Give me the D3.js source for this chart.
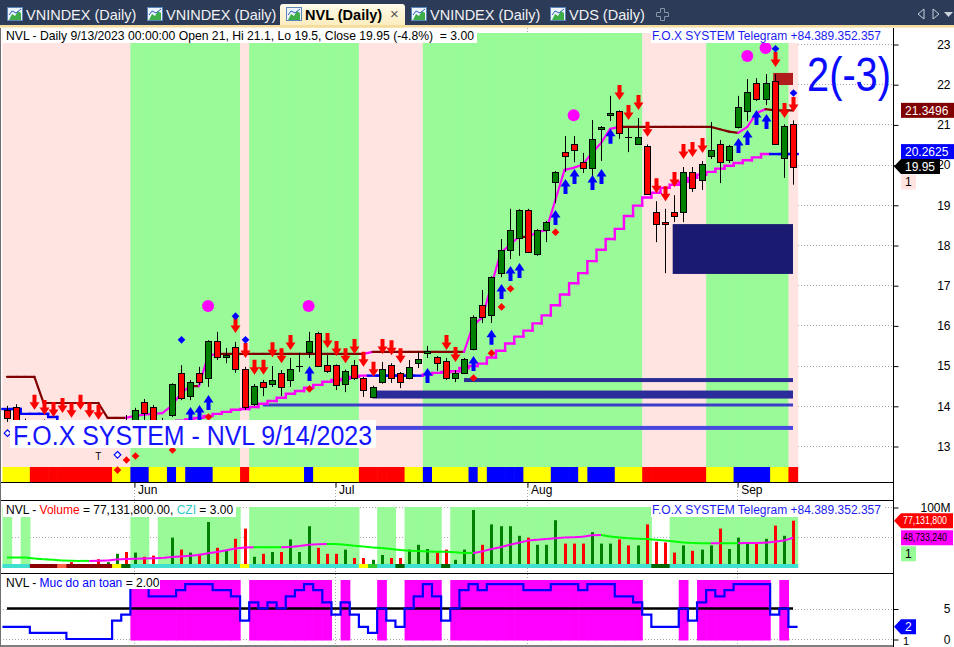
<!DOCTYPE html>
<html>
<head>
<meta charset="utf-8">
<title>NVL (Daily)</title>
<script src="https://cdn.jsdelivr.net/npm/d3@7"></script>
<style>
  body { margin: 0; background: #fff; overflow: hidden; }
  svg { display: block; }
</style>
</head>
<body>
<svg id="chart" width="954" height="647"></svg>
<script>
// ---------------- data ----------------
var opens = [13.90,13.97,13.60,13.45,13.60,13.45,13.40,13.50,13.35,13.40,
  13.30,13.25,13.28,13.55,13.50,14.09,13.97,13.55,13.77,14.82,
  14.24,14.82,14.69,15.61,15.21,15.46,14.92,14.04,14.59,14.54,
  14.82,14.64,14.98,15.34,15.81,15.01,15.01,14.54,15.01,14.69,
  14.22,14.59,15.01,14.82,14.69,15.06,15.31,15.21,15.11,14.69,
  14.82,15.41,16.51,16.26,17.30,17.88,18.17,18.87,17.78,18.37,
  19.57,20.31,20.51,20.06,19.92,20.89,21.23,21.33,20.70,20.51,
  20.46,18.82,18.57,18.82,18.82,19.82,19.62,20.21,20.51,20.11,
  20.94,21.33,22.03,21.63,22.08,20.16,21.00];
var highs = [14.00,14.04,13.68,13.62,13.66,13.55,13.60,13.58,13.62,13.50,
  13.45,13.50,13.55,13.77,13.95,14.17,14.02,13.70,14.56,15.01,
  14.64,14.97,15.63,15.84,15.44,15.59,14.97,14.54,14.64,14.99,
  14.89,15.19,15.31,15.84,15.84,15.26,15.03,14.90,15.14,14.72,
  14.50,15.09,15.06,14.84,15.14,15.34,15.49,15.24,15.19,14.89,
  15.19,16.25,16.88,17.22,18.15,18.90,18.89,18.90,18.40,18.60,
  19.84,20.71,20.71,20.29,21.11,20.96,21.71,21.35,20.91,21.16,
  20.50,19.09,18.90,19.24,19.94,19.94,20.09,21.06,20.61,20.49,
  21.71,22.13,22.15,22.25,22.25,21.00,21.10];
var lows = [13.60,13.50,13.35,13.35,13.35,13.30,13.30,13.25,13.20,13.20,
  13.15,13.15,13.20,13.25,13.40,13.60,13.50,13.35,13.72,14.14,
  14.14,14.52,14.47,15.14,15.06,14.82,13.90,14.00,14.24,14.47,
  14.24,14.47,14.84,15.19,14.97,14.82,14.39,14.34,14.64,14.22,
  14.20,14.55,14.57,14.44,14.66,14.94,15.19,14.87,14.64,14.59,
  14.80,15.38,16.06,16.06,17.20,17.65,17.73,17.80,17.73,18.07,
  19.04,19.82,20.06,19.79,19.54,20.09,21.08,20.64,20.31,20.49,
  19.25,18.07,17.30,18.57,18.57,19.32,19.37,20.14,19.54,20.04,
  20.90,21.08,21.58,21.48,20.49,19.67,19.50];
var closes = [13.70,13.55,13.45,13.55,13.45,13.40,13.50,13.35,13.40,13.30,
  13.25,13.35,13.36,13.40,13.90,13.82,13.60,13.62,14.54,14.19,
  14.59,14.59,15.61,15.21,15.26,14.92,13.97,14.49,14.47,14.64,
  14.47,14.92,15.00,15.61,14.99,14.87,14.52,14.87,14.69,14.39,
  14.47,14.92,14.69,14.59,14.97,15.16,15.36,15.06,14.69,14.82,
  15.16,16.21,16.21,17.20,17.88,18.37,18.87,17.83,18.37,18.57,
  19.82,20.21,20.36,19.92,20.64,20.94,21.28,20.79,20.68,20.69,
  19.27,18.52,18.52,18.72,19.82,19.42,20.01,20.36,20.06,20.46,
  21.43,21.81,21.63,22.03,20.51,20.95,19.95];
// volume in millions of shares
var volumes = [3,5,5,4,3,4,3,8,4,3,
  13,8,22,25,24,17,19,5,49,29,
  24,22,75,32,27,47,64,17,22,25,
  25,46,25,68,32,22,22,29,15,15,
  12,20,15,15,29,37,30,24,29,12,
  29,95,37,71,68,68,52,49,37,37,
  78,39,39,39,58,39,39,46,36,36,
  71,42,41,24,36,27,29,36,64,30,
  49,41,39,47,69,52,77.1318];
var volumeMA = [15.8,15.8,15.8,14,13,12,11,10.5,10.2,10.2,
  10.5,11,12.5,13.5,13.8,14,14.5,15,16.5,17.5,
  18.6,20,23,25,28,31,32.5,33,33,33,
  33,33.5,35,37,38,38.5,38.4,37,35.5,34,
  32.5,31.5,30,28.5,27,26.5,26,25.5,25.4,24.5,
  23.5,23.5,26,30,33,37,40.5,44,45.5,46.5,
  48,49,49.5,50.5,53,53.5,51,49,48,47,
  46.5,45.5,44,42.5,41,40,39.5,39.5,39.6,39.5,
  39.4,39.8,40,40.5,42,44,48.73324];
var upperStop = [14.72,14.72,14.72,14.72,14.07,14.07,14.07,14.07,14.07,14.07,
  14.07,13.70,13.70,13.70,13.75,13.78,13.80,13.82,14.00,14.30,
  14.49,14.49,15.25,15.29,15.29,15.29,15.29,15.29,15.29,15.29,
  15.29,15.29,15.29,15.29,15.29,15.29,15.29,15.29,15.29,15.29,
  15.34,15.34,15.34,15.34,15.34,15.34,15.34,15.34,15.34,15.34,
  15.34,16.00,16.20,17.00,17.80,18.00,18.20,18.20,18.32,18.37,
  19.12,19.87,19.92,20.00,20.29,20.54,20.89,20.94,20.94,20.94,
  20.94,20.94,20.94,20.94,20.94,20.94,20.94,20.94,20.88,20.82,
  20.79,20.94,21.28,21.38,21.3496,21.3496,21.3496];
var lowerStop = [13.92,13.92,13.80,13.80,13.80,13.72,13.62,13.55,13.52,13.50,
  13.48,13.46,13.45,13.45,13.47,13.50,13.53,13.56,13.60,13.63,
  13.66,13.70,13.75,13.80,13.85,13.90,13.92,13.97,14.05,14.12,
  14.20,14.30,14.37,14.45,14.52,14.60,14.64,14.67,14.72,14.75,
  14.75,14.75,14.75,14.75,14.75,14.75,14.78,14.82,14.84,14.86,
  14.94,14.99,15.05,15.20,15.37,15.55,15.72,15.87,16.05,16.25,
  16.50,16.77,17.05,17.30,17.60,17.88,18.15,18.40,18.72,18.98,
  19.18,19.30,19.42,19.50,19.57,19.67,19.75,19.82,19.90,19.97,
  20.04,20.11,20.18,20.2625,20.2625,20.2625,20.2625];
// "Muc do an toan" (safety level)
var safety = [2,2,2,1,1,1,1,0,0,0,0,0,3,4,9,9,7,7,7,8,9,9,9,8,8,7,3,
  6,5,6,5,7,8,9,8,6,4,6,4,2,1,5,3,2,5,7,9,7,3,5,8,9,8,9,9,9,9,8,8,8,
  9,9,9,8,9,9,9,7,7,6,4,2,2,2,5,3,6,8,7,8,9,9,9,9,4,5,2];

// run-length coded per-bar states
var mainShade = [["p",14],["g",12],["p",1],["g",12],["p",7],["g",24],["p",7],["g",9],["p",1]];
var trendBand = [["y",3],["r",9],["y",2],["b",2],["y",2],["b",1],["y",1],["b",3],["y",3],["r",1],
  ["y",6],["b",1],["y",5],["r",5],["y",2],["b",1],["y",4],["b",1],["y",1],["b",4],["y",3],["b",3],
  ["y",1],["b",3],["y",3],["r",7],["y",3],["b",4],["y",2],["r",1]];
var volShade = [[1,1],[0,1],[1,1],[0,11],[1,2],[0,1],[1,9],[0,1],[1,12],[0,2],[1,2],[0,1],[1,4],[0,1],[1,22],[0,2],[1,14]];
var cziBand = [["c",3],["r",3],["o",1],["r",5],["y",1],["g",1],["c",12],["y",1],["c",12],["y",1],["l",1],
  ["c",2],["g",1],["c",4],["g",1],["c",22],["g",2],["c",14]];
var safeShade = [[0,14],[1,12],[0,1],[1,9],[0,1],[1,1],[0,3],[1,1],[0,2],[1,4],[0,1],[1,21],[0,4],[1,1],[0,1],[1,8],[0,1],[1,1],[0,1]];

// signals: [bar index, price]
var sellArrows = [[3,13.90],[4,13.77],[5,13.72],[6,13.82],[7,13.70],[8,13.90],[9,13.70],[10,13.65],
  [25,15.81],[26,15.19],[27,14.77],[28,14.77],[29,15.21],[30,15.06],[31,15.39],[35,15.44],[36,15.24],
  [37,15.06],[38,15.29],[39,14.97],[40,14.72],[41,15.29],[42,15.26],[43,15.06],[48,15.39],[49,15.09],
  [67,21.61],[68,21.11],[69,21.36],[70,20.69],[71,19.29],[72,19.09],[73,19.44],[74,20.14],[75,20.19],
  [76,20.29],[84,22.43],[85,21.16],[86,21.31]];
var buyArrows = [[20,13.97],[21,14.02],[22,14.27],[33,14.99],[46,14.94],[51,15.24],[53,15.89],[54,17.03],
  [55,17.48],[56,17.55],[60,18.87],[61,19.64],[62,19.89],[64,19.74],[65,19.89],[66,20.89],[80,20.66],
  [81,20.86],[82,21.36],[83,21.26]];
var redDots = [[12,12.40],[13,12.65],[14,12.75],[18,12.90],[22,13.72],[33,14.42],[51,14.69],[53,15.31],
  [54,16.46],[55,16.91],[60,18.32]];
var blueDots = [[19,15.64],[25,16.23],[26,15.64],[84,22.88],[86,21.78]];
var hollowDots = [[0,13.32],[12,12.78]];
var pinkCircles = [[22,16.48],[33,16.48],[62,21.23],[81,22.70],[83,22.90]];
var tMarks = [[10,12.74]];

// support levels: [from bar, price]; zones: [from bar, top, bottom]
var supportLines = [[50,14.64],[40,14.28],[28,14.02],[40,13.45]];
var zones = [[73,18.52,17.28],[84,22.28,21.98]];

var priceTicks = [13,14,15,16,17,18,19,20,21,22,23];
var monthTicks = [["Jun",14],["Jul",36],["Aug",57],["Sep",80]];
var tabs = [["VNINDEX (Daily)",7],["VNINDEX (Daily)",147],["NVL (Daily)",286],["VNINDEX (Daily)",411],["VDS (Daily)",550]];

// ---------------- setup ----------------
var FONT = "'Liberation Sans', Arial, Helvetica, sans-serif";
var svg = d3.select("#chart").attr("font-family", FONT);

function expand(runs) {
  var out = [];
  runs.forEach(function (r) { for (var k = 0; k < r[1]; k++) out.push(r[0]); });
  return out;
}

var n = closes.length;
var x = d3.scaleLinear().domain([0, n - 1]).range([7, 793]);
var bw = x(1) - x(0);
var y = d3.scaleLinear().domain([13, 23]).range([446, 44]);
var yv = d3.scaleLinear().domain([0, 100]).range([567, 507]);
var ys = d3.scaleLinear().domain([0, 5]).range([639, 608.5]);
var AX = 893;
var cx = function (i) { return Math.round(x(i)) + 0.5; };

svg.append("rect").attr("width", 954).attr("height", 647).attr("fill", "#fff");

// ---------------- tab bar ----------------
var defs = svg.append("defs");
var grad = defs.append("linearGradient").attr("id", "tabgrad").attr("x1", 0).attr("y1", 0).attr("x2", 0).attr("y2", 1);
grad.append("stop").attr("offset", "0%").attr("stop-color", "#fffbea");
grad.append("stop").attr("offset", "100%").attr("stop-color", "#fbebb9");

var tb = svg.append("g");
tb.append("rect").attr("width", 954).attr("height", 27).attr("fill", "#2c3b58");
tb.append("path").attr("d", "M280,28V7Q280,4 283,4H402Q405,4 405,7V28Z").attr("fill", "url(#tabgrad)");
tb.append("rect").attr("y", 25).attr("width", 954).attr("height", 2.5).attr("fill", "#f3dc9e");

tabs.forEach(function (t, k) {
  var x0 = t[1];
  tb.append("rect").attr("x", x0 + 0.5).attr("y", 7.5).attr("width", 15).attr("height", 13)
    .attr("fill", "#eef4fb").attr("stroke", "#5b84bb");
  tb.append("path").attr("d", "M" + (x0 + 2) + ",20L" + (x0 + 5) + ",14L" + (x0 + 8) + ",16L" + (x0 + 11) + ",11L" + (x0 + 14) + ",13V20Z")
    .attr("fill", "#3fae49");
  tb.append("path").attr("d", "M" + (x0 + 2) + ",15L" + (x0 + 5) + ",11L" + (x0 + 9) + ",13L" + (x0 + 14) + ",9")
    .attr("fill", "none").attr("stroke", "#2a5fc0").attr("stroke-width", 1);
  var active = k === 2;
  tb.append("text").attr("x", x0 + 19).attr("y", 19.5)
    .attr("font-size", 14.5).attr("font-weight", active ? "bold" : "normal")
    .attr("fill", active ? "#000" : "#f2f2f2").text(t[0]);
});
tb.append("text").attr("x", 390).attr("y", 19).attr("font-size", 15).attr("fill", "#555").text("\u00d7");
tb.append("path").attr("d", "M660.5,8.5h4v4h4v4h-4v4h-4v-4h-4v-4h4z").attr("fill", "none").attr("stroke", "#8592a8");
tb.append("path").attr("d", "M924,9L918,14L924,19Z").attr("fill", "none").attr("stroke", "#c9d1dd");
tb.append("path").attr("d", "M933,9L939,14L933,19Z").attr("fill", "none").attr("stroke", "#c9d1dd");
tb.append("path").attr("d", "M944,12H953L948.5,17Z").attr("fill", "#c9d1dd");

// ---------------- grid ----------------
var grid = svg.append("g").attr("stroke", "#a9a9a9").attr("stroke-dasharray", "1,2");
priceTicks.forEach(function (p) {
  var yy = Math.round(y(p)) + 0.5;
  grid.append("line").attr("x1", 0).attr("x2", AX).attr("y1", yy).attr("y2", yy);
});
[50, 100].forEach(function (v) {
  var yy = Math.round(yv(v)) + 0.5;
  grid.append("line").attr("x1", 0).attr("x2", AX).attr("y1", yy).attr("y2", yy);
});
[0, 5].forEach(function (v) {
  var yy = Math.round(ys(v)) + 0.5;
  grid.append("line").attr("x1", 0).attr("x2", AX).attr("y1", yy).attr("y2", yy);
});
monthTicks.forEach(function (m) {
  var xx = Math.round(x(m[1])) - 0.5;
  grid.append("line").attr("x1", xx).attr("x2", xx).attr("y1", 28).attr("y2", 646);
});

// ---------------- main pane backgrounds ----------------
var shadeCol = { p: "#ffe4e1", g: "#98fb98" };
var bandCol = { y: "#ffff00", r: "#ff0000", b: "#0000ff" };
svg.append("g").selectAll("rect").data(expand(mainShade)).join("rect")
  .attr("x", function (d, i) { return x(i) - bw / 2; }).attr("width", bw + 0.6)
  .attr("y", 33).attr("height", 467 - 33)
  .attr("fill", function (d) { return shadeCol[d]; });
svg.append("g").selectAll("rect").data(expand(trendBand)).join("rect")
  .attr("x", function (d, i) { return x(i) - bw / 2; }).attr("width", bw + 0.6)
  .attr("y", 467).attr("height", 15)
  .attr("fill", function (d) { return bandCol[d]; });

// ---------------- support lines and zones ----------------
var supportStyle = [[4, "#2b2b96"], [8, "#2b2b99"], [3, "#3d3dc8"], [4, "#4848de"]];
supportLines.forEach(function (s, k) {
  var th = supportStyle[k][0];
  svg.append("rect").attr("x", x(s[0])).attr("width", x(n - 1) - x(s[0]))
    .attr("y", y(s[1]) - th / 2).attr("height", th).attr("fill", supportStyle[k][1]);
});
var zoneColor = ["#1a1a72", "#b01e1e"];
zones.forEach(function (z, k) {
  svg.append("rect").attr("x", x(z[0]) - 1.5).attr("width", x(n - 1) - x(z[0]) + 1.5)
    .attr("y", y(z[1])).attr("height", y(z[2]) - y(z[1])).attr("fill", zoneColor[k]);
});

// ---------------- trailing lines ----------------
var seg = d3.line();
var upperG = svg.append("g").attr("fill", "none").attr("stroke-width", 2.2).attr("stroke-linecap", "round");
for (var i = 1; i < n; i++) {
  upperG.append("path")
    .attr("d", seg([[x(i - 1), y(upperStop[i - 1])], [x(i), y(upperStop[i])]]))
    .attr("stroke", upperStop[i] > upperStop[i - 1] + 1e-9 ? "#ff00ff" : "#800000");
}
var lowerG = svg.append("g").attr("fill", "none").attr("stroke-width", 2.4).attr("stroke-linecap", "square");
for (var i = 0; i < n; i++) {
  var prev = i > 0 ? lowerStop[i - 1] : lowerStop[0];
  var xl = x(i) - bw / 2, xr = x(i) + bw / 2;
  lowerG.append("path")
    .attr("d", seg([[xl, y(prev)], [xl, y(lowerStop[i])], [xr, y(lowerStop[i])]]))
    .attr("stroke", lowerStop[i] > prev + 1e-9 ? "#ff00ff" : "#0000ff");
}

// ---------------- candles ----------------
var candles = svg.append("g");
for (var i = 0; i < n; i++) {
  var o = opens[i], c = closes[i], xc = cx(i);
  candles.append("line").attr("x1", xc).attr("x2", xc)
    .attr("y1", y(highs[i])).attr("y2", y(lows[i])).attr("stroke", "#000");
  if (Math.abs(o - c) < 0.03) {
    candles.append("line").attr("x1", xc - 3.5).attr("x2", xc + 3.5)
      .attr("y1", Math.round(y(c)) + 0.5).attr("y2", Math.round(y(c)) + 0.5).attr("stroke", "#000");
  } else {
    var bodyTop = Math.round(y(Math.max(o, c))), bodyBot = Math.round(y(Math.min(o, c)));
    candles.append("rect").attr("x", xc - 3).attr("width", 6)
      .attr("y", bodyTop + 0.5).attr("height", Math.max(1, bodyBot - bodyTop))
      .attr("fill", c >= o ? "#008000" : "#ff0000").attr("stroke", "#000");
  }
}

// ---------------- signals ----------------
function downArrow(px, ty) {
  return "M" + (px - 2) + "," + (ty - 15) + "H" + (px + 2) + "V" + (ty - 7.5) + "H" + (px + 5) +
    "L" + px + "," + ty + "L" + (px - 5) + "," + (ty - 7.5) + "H" + (px - 2) + "Z";
}
function upArrow(px, ty) {
  return "M" + (px - 2) + "," + (ty + 15) + "H" + (px + 2) + "V" + (ty + 7.5) + "H" + (px + 5) +
    "L" + px + "," + ty + "L" + (px - 5) + "," + (ty + 7.5) + "H" + (px - 2) + "Z";
}
function diamond(px, py, r) {
  return "M" + px + "," + (py - r) + "L" + (px + r) + "," + py + "L" + px + "," + (py + r) + "L" + (px - r) + "," + py + "Z";
}
var sig = svg.append("g");
sig.selectAll(".sell").data(sellArrows).join("path").attr("class", "sell")
  .attr("d", function (d) { return downArrow(Math.round(x(d[0])) + 0.5, y(d[1])); }).attr("fill", "#ff0000");
sig.selectAll(".buy").data(buyArrows).join("path").attr("class", "buy")
  .attr("d", function (d) { return upArrow(Math.round(x(d[0])) + 0.5, y(d[1])); }).attr("fill", "#0000ff");
sig.selectAll(".rd").data(redDots).join("path").attr("class", "rd")
  .attr("d", function (d) { return diamond(Math.round(x(d[0])) + 0.5, y(d[1]), 3.8); }).attr("fill", "#ff0000");
sig.selectAll(".bd").data(blueDots).join("path").attr("class", "bd")
  .attr("d", function (d) { return diamond(Math.round(x(d[0])) + 0.5, y(d[1]), 3.8); }).attr("fill", "#0000ff");
sig.selectAll(".hd").data(hollowDots).join("path").attr("class", "hd")
  .attr("d", function (d) { return diamond(Math.round(x(d[0])) + 0.5, y(d[1]), 3.3); })
  .attr("fill", "#fff").attr("stroke", "#0000ff").attr("stroke-width", 1.2);
sig.selectAll("circle").data(pinkCircles).join("circle")
  .attr("cx", function (d) { return x(d[0]); }).attr("cy", function (d) { return y(d[1]); })
  .attr("r", 6).attr("fill", "#ff00ff");

// ---------------- big labels in the price pane ----------------
svg.append("rect").attr("x", 10).attr("y", 420).attr("width", 366).attr("height", 28).attr("fill", "#fff");
svg.append("text").attr("x", 13).attr("y", 445).attr("font-size", 27)
  .attr("textLength", 359).attr("lengthAdjust", "spacingAndGlyphs")
  .attr("fill", "#1414ff").text("F.O.X SYSTEM - NVL 9/14/2023");
sig.selectAll(".tm").data(tMarks).join("text").attr("class", "tm")
  .attr("x", function (d) { return x(d[0]); }).attr("y", function (d) { return y(d[1]); })
  .attr("dy", "0.38em").attr("text-anchor", "middle").attr("font-size", 10).text("T");
svg.append("text").attr("x", 807).attr("y", 91).attr("font-size", 48)
  .attr("textLength", 84).attr("lengthAdjust", "spacingAndGlyphs")
  .attr("fill", "#0a0aff").text("2(-3)");

// ---------------- volume pane ----------------
var cziCol = { c: "#40e0d0", r: "#8b0000", o: "#ff6347", y: "#ffff00", g: "#006400", l: "#32cd32" };
svg.append("g").selectAll("rect").data(expand(volShade)).join("rect")
  .attr("x", function (d, i) { return x(i) - bw / 2; }).attr("width", bw + 0.6)
  .attr("y", 507).attr("height", 60)
  .attr("fill", function (d) { return d ? "#98fb98" : "none"; });
svg.append("g").selectAll("rect").data(volumes).join("rect")
  .attr("x", function (d, i) { return Math.round(x(i)) - 1; }).attr("width", 3)
  .attr("y", function (d) { return yv(d); }).attr("height", function (d) { return yv(0) - yv(d); })
  .attr("fill", function (d, i) { return closes[i] >= opens[i] ? "#008000" : "#ff0000"; });
svg.append("g").selectAll("rect").data(expand(cziBand)).join("rect")
  .attr("x", function (d, i) { return x(i) - bw / 2; }).attr("width", bw + 0.6)
  .attr("y", 564).attr("height", 4)
  .attr("fill", function (d) { return cziCol[d]; });
var maG = svg.append("g").attr("fill", "none").attr("stroke-width", 2);
for (var i = 1; i < n; i++) {
  maG.append("path")
    .attr("d", seg([[x(i - 1), yv(volumeMA[i - 1])], [x(i), yv(volumeMA[i])]]))
    .attr("stroke", volumeMA[i] > volumeMA[i - 1] ? "#ff00ff" : "#00ff00");
}

// ---------------- safety pane ----------------
svg.append("g").selectAll("rect").data(expand(safeShade)).join("rect")
  .attr("x", function (d, i) { return x(i) - bw / 2; }).attr("width", bw + 0.6)
  .attr("y", 580).attr("height", 60.5)
  .attr("fill", function (d) { return d ? "#ff00ff" : "none"; });
svg.append("line").attr("x1", x(0)).attr("x2", x(n - 1))
  .attr("y1", ys(5)).attr("y2", ys(5)).attr("stroke", "#000").attr("stroke-width", 2.5);
var safePts = safety.map(function (v, i) { return [x(i) - bw / 2, ys(v)]; });
safePts.push([x(n - 1) + bw / 2, ys(safety[n - 1])]);
svg.append("path").attr("d", d3.line().curve(d3.curveStepAfter)(safePts))
  .attr("fill", "none").attr("stroke", "#0000ff").attr("stroke-width", 2.2);

// ---------------- pane titles ----------------
var last = n - 1;
var pct = d3.format(".1f")((closes[last] / closes[last - 1] - 1) * 100).replace("\u2212", "-");
svg.append("rect").attr("x", 3).attr("y", 28).attr("width", 474).attr("height", 15).attr("fill", "#fff");
svg.append("text").attr("x", 6).attr("y", 40).attr("font-size", 12.4).style("white-space", "pre")
  .attr("textLength", 468).attr("lengthAdjust", "spacingAndGlyphs")
  .text("NVL - Daily 9/13/2023 00:00:00 Open " + opens[last] + ", Hi " + highs[last] + ", Lo " + lows[last] +
    ", Close " + closes[last] + " (" + pct + "%)  = 3.00");

function telegram(yb) {
  svg.append("rect").attr("x", 651).attr("y", yb - 12).attr("width", 232).attr("height", 15).attr("fill", "#fff");
  svg.append("text").attr("x", 652).attr("y", yb).attr("font-size", 12).attr("fill", "#1c1cf0")
    .text("F.O.X SYSTEM Telegram +84.389.352.357");
}
telegram(40);
telegram(514);

svg.append("rect").attr("x", 3).attr("y", 503).attr("width", 233).attr("height", 14).attr("fill", "#fff");
var vt = svg.append("text").attr("x", 6).attr("y", 514).attr("font-size", 12).style("white-space", "pre");
vt.append("tspan").text("NVL - ");
vt.append("tspan").attr("fill", "#ff0000").text("Volume");
vt.append("tspan").text(" = " + d3.format(",.2f")(volumes[last] * 1e6) + ", ");
vt.append("tspan").attr("fill", "#2ec9c9").text("CZI");
vt.append("tspan").text(" = 3.00");

svg.append("rect").attr("x", 3).attr("y", 576).attr("width", 157).attr("height", 13).attr("fill", "#fff");
var st = svg.append("text").attr("x", 6).attr("y", 587).attr("font-size", 12).style("white-space", "pre");
st.append("tspan").text("NVL - ");
st.append("tspan").attr("fill", "#0000ff").text("Muc do an toan");
st.append("tspan").text(" = " + d3.format(".2f")(safety[last]));

// ---------------- pane frames ----------------
var frame = svg.append("g").attr("stroke", "#000").attr("stroke-width", 1);
[482.5, 500.5, 573.5, 646].forEach(function (yy) {
  frame.append("line").attr("x1", 0).attr("x2", AX).attr("y1", yy).attr("y2", yy);
});
frame.append("line").attr("x1", AX + 0.5).attr("x2", AX + 0.5).attr("y1", 28).attr("y2", 647);
frame.append("line").attr("x1", 0.5).attr("x2", 0.5).attr("y1", 28).attr("y2", 647).attr("stroke", "#707070");

// ---------------- axes ----------------
function styleAxis(g) {
  g.select(".domain").remove();
  g.attr("font-family", FONT).attr("font-size", 12);
  g.selectAll("text").attr("fill", "#000");
}
var yAxisG = svg.append("g").attr("transform", "translate(" + (AX + 0.5) + ",0.5)")
  .call(d3.axisRight(y).tickValues(priceTicks).tickSize(5).tickFormat(d3.format("d")));
styleAxis(yAxisG);
yAxisG.selectAll("text").attr("x", 57).attr("text-anchor", "end");

var vAxisG = svg.append("g").attr("transform", "translate(" + (AX + 0.5) + ",0.5)")
  .call(d3.axisRight(yv).tickValues([100]).tickSize(5).tickFormat(function (d) { return d + "M"; }));
styleAxis(vAxisG);
vAxisG.selectAll("text").attr("x", 57).attr("text-anchor", "end");

var sAxisG = svg.append("g").attr("transform", "translate(" + (AX + 0.5) + ",0.5)")
  .call(d3.axisRight(ys).tickValues([0, 5]).tickSize(5).tickFormat(d3.format("d")));
styleAxis(sAxisG);
sAxisG.selectAll("text").attr("x", 57).attr("text-anchor", "end");

var xAxisG = svg.append("g").attr("transform", "translate(-0.5,482.5)")
  .call(d3.axisBottom(x).tickValues(monthTicks.map(function (m) { return m[1]; }))
    .tickSize(5).tickFormat(function (d, k) { return monthTicks[k][0]; }));
styleAxis(xAxisG);
xAxisG.selectAll("text").attr("x", 3).attr("y", 3).attr("text-anchor", "start");

// ---------------- value tags on the right axis ----------------
function tag(yc, txt, bg, fg, arrow, w, fs) {
  var x0 = 901;
  if (arrow) {
    svg.append("path").attr("d", "M" + (x0 - 7) + "," + yc + "L" + x0 + "," + (yc - 7.5) + "H" + (x0 + w) +
      "V" + (yc + 7.5) + "H" + x0 + "Z").attr("fill", bg);
  } else {
    svg.append("rect").attr("x", x0).attr("y", yc - 7.5).attr("width", w).attr("height", 15).attr("fill", bg);
  }
  var t = svg.append("text").attr("x", x0 + (fs ? 2 : 4)).attr("y", yc).attr("dy", "0.36em")
    .attr("font-size", fs || 12).attr("fill", fg).text(txt);
  if (fs) t.attr("textLength", 44).attr("lengthAdjust", "spacingAndGlyphs");
}
var tClose = y(closes[last]);
var tLower = Math.min(y(lowerStop[last]), tClose - 15);
var tUpper = Math.min(y(upperStop[last]), tLower - 15);
tag(tUpper, d3.format(".4f")(upperStop[last]), "#800000", "#fff", false, 53);
tag(tLower, d3.format(".4f")(lowerStop[last]), "#0000ff", "#fff", false, 53);
tag(tClose, String(closes[last]), "#000", "#fff", true, 39);
tag(tClose + 15.5, "1", "#ffe4e1", "#000", false, 15);

var tVol = yv(volumes[last]);
var tMA = Math.max(yv(volumeMA[last]), tVol + 15);
tag(tVol, d3.format(",.0f")(volumes[last] * 1e6), "#ff0000", "#fff", true, 52, 10);
tag(tMA, d3.format(",.0f")(volumeMA[last] * 1e6), "#ff00ff", "#000", false, 52, 10);
tag(tMA + 16, "1", "#98fb98", "#000", false, 15);

tag(ys(safety[last]), String(safety[last]), "#0000ff", "#fff", true, 15);
svg.append("text").attr("x", 903).attr("y", 645).attr("font-size", 11).text("1");
</script>
</body>
</html>
